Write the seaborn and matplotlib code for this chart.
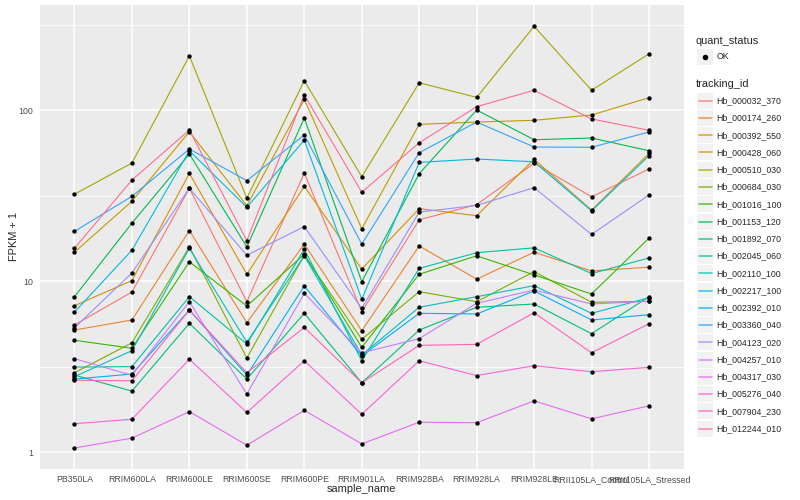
import matplotlib
matplotlib.use("Agg")
import matplotlib.pyplot as plt
from matplotlib.lines import Line2D
from matplotlib.patches import Rectangle
from matplotlib.ticker import FixedLocator, NullFormatter
import seaborn as sns
import pandas as pd

samples = ['PB350LA', 'RRIM600LA', 'RRIM600LE', 'RRIM600SE', 'RRIM600PE', 'RRIM901LA',
           'RRIM928BA', 'RRIM928LA', 'RRIM928LE', 'RRII105LA_Control', 'RRII105LA_Stressed']

genes = ['Hb_000032_370', 'Hb_000174_260', 'Hb_000392_550', 'Hb_000428_060', 'Hb_000510_030',
         'Hb_000684_030', 'Hb_001016_100', 'Hb_001153_120', 'Hb_001892_070', 'Hb_002045_060',
         'Hb_002110_100', 'Hb_002217_100', 'Hb_002392_010', 'Hb_003360_040', 'Hb_004123_020',
         'Hb_004257_010', 'Hb_004317_030', 'Hb_005276_040', 'Hb_007904_230', 'Hb_012244_010']

# ggplot default hue palette, 20 levels
colors = ['#F8766D', '#EA8331', '#D89000', '#C09B00', '#A3A500', '#7CAE00', '#39B600',
          '#00BB4E', '#00BF7D', '#00C1A3', '#00BFC4', '#00BAE0', '#00B0F6', '#35A2FF',
          '#9590FF', '#C77CFF', '#E76BF3', '#FA62DB', '#FF62BC', '#FF6C91']

# FPKM + 1, one value per sample
hb_000032_370 = [5.55, 8.66, 35.0, 7.60, 43.0, 6.64, 22.9, 28.1, 49.0, 31.2, 45.4]
hb_000174_260 = [5.19, 5.94, 19.8, 5.73, 16.5, 5.14, 16.1, 10.3, 14.8, 11.5, 12.1]
hb_000392_550 = [7.20, 10.1, 42.8, 11.0, 35.9, 11.8, 26.6, 24.2, 51.7, 26.1, 56.0]
hb_000428_060 = [14.8, 29.4, 75.0, 27.7, 116.0, 20.3, 82.8, 85.4, 87.4, 93.9, 118.5]
hb_000510_030 = [32.3, 49.2, 208.0, 30.6, 149.0, 40.9, 145.0, 119.0, 310.0, 131.0, 214.0]
hb_000684_030 = [2.92, 4.37, 15.9, 3.56, 14.2, 4.58, 8.70, 7.60, 11.4, 7.54, 7.64]
hb_001016_100 = [4.52, 4.06, 13.0, 7.17, 14.4, 4.11, 11.0, 14.1, 10.9, 8.43, 17.9]
hb_001153_120 = [8.13, 21.9, 55.5, 15.9, 90.2, 9.95, 42.6, 100.4, 67.3, 68.9, 58.0]
hb_001892_070 = [2.83, 2.28, 5.68, 2.68, 6.50, 2.55, 5.19, 7.05, 7.37, 4.94, 8.13]
hb_002045_060 = [3.15, 3.17, 8.13, 4.30, 15.4, 3.43, 11.9, 14.7, 15.7, 11.1, 13.7]
hb_002110_100 = [2.77, 3.93, 15.6, 4.40, 14.1, 3.71, 7.05, 8.13, 9.43, 6.50, 8.02]
hb_002217_100 = [6.61, 15.2, 58.0, 27.1, 67.0, 7.85, 49.6, 51.9, 50.0, 25.8, 54.3]
hb_002392_010 = [2.68, 2.87, 6.79, 2.83, 9.39, 3.66, 6.50, 6.44, 8.78, 5.94, 6.38]
hb_003360_040 = [19.6, 31.4, 59.4, 38.8, 71.7, 16.5, 56.5, 85.4, 61.0, 60.8, 74.7]
hb_004123_020 = [5.35, 11.2, 35.0, 14.2, 20.9, 6.95, 25.4, 27.8, 35.3, 18.8, 32.0]
hb_004257_010 = [3.53, 2.82, 7.60, 2.19, 8.51, 3.82, 4.62, 7.44, 8.89, 7.37, 7.64]
hb_004317_030 = [1.06, 1.21, 1.73, 1.10, 1.76, 1.12, 1.50, 1.49, 2.00, 1.57, 1.87]
hb_005276_040 = [1.47, 1.56, 3.50, 1.71, 3.43, 1.67, 3.43, 2.81, 3.21, 2.96, 3.14]
hb_007904_230 = [2.64, 2.62, 6.79, 2.92, 5.37, 2.55, 4.22, 4.28, 6.55, 3.82, 5.65]
hb_012244_010 = [15.6, 39.1, 76.7, 17.3, 123.0, 33.2, 64.6, 105.0, 131.0, 89.0, 76.4]

series = [hb_000032_370, hb_000174_260, hb_000392_550, hb_000428_060, hb_000510_030,
          hb_000684_030, hb_001016_100, hb_001153_120, hb_001892_070, hb_002045_060,
          hb_002110_100, hb_002217_100, hb_002392_010, hb_003360_040, hb_004123_020,
          hb_004257_010, hb_004317_030, hb_005276_040, hb_007904_230, hb_012244_010]

rows = []
for gene, vals in zip(genes, series):
    for s, v in zip(samples, vals):
        rows.append({'tracking_id': gene, 'sample_name': s, 'fpkm': v, 'quant_status': 'OK'})
df = pd.DataFrame(rows)

sns.set_theme(style='darkgrid')
plt.rcParams['font.family'] = ['Liberation Sans', 'DejaVu Sans']

W, H = 800, 500
fig = plt.figure(figsize=(8, 5), dpi=100)
ax = fig.add_axes([40 / W, 1 - 468.7 / H, (683.5 - 40) / W, (468.7 - 5) / H])

sns.lineplot(data=df, x='sample_name', y='fpkm', hue='tracking_id', hue_order=genes,
             palette=colors, estimator=None, sort=False, lw=0.8, legend=False, ax=ax)
sns.scatterplot(data=df, x='sample_name', y='fpkm', color='black', s=10, linewidth=0,
                legend=False, ax=ax, zorder=3)

ax.set_yscale('log')
ax.set_xlim(-0.6, 10.6)
ax.set_ylim(0.802, 413)
ax.set_yticks([1, 10, 100])
ax.set_yticklabels(['1', '10', '100'])
ax.yaxis.set_minor_locator(FixedLocator([10 ** 0.5, 10 ** 1.5, 10 ** 2.5]))
ax.yaxis.set_minor_formatter(NullFormatter())

ax.set_facecolor('#EBEBEB')
ax.grid(which='major', color='white', lw=1.1)
ax.grid(which='minor', axis='y', color='white', lw=0.55)
ax.set_axisbelow(True)
for sp in ax.spines.values():
    sp.set_visible(False)

ax.tick_params(axis='both', which='major', length=2.75, width=0.8, color='#333333',
               labelsize=6.3, labelcolor='#4D4D4D', pad=2)
ax.tick_params(axis='both', which='minor', length=0)
ax.set_xlabel('sample_name', fontsize=7.9, labelpad=0)
ax.set_ylabel('FPKM + 1', fontsize=7.9, labelpad=0)


def fx(px):
    return px / W


def fy(py):
    return 1 - py / H


# legend drawn like ggplot's guide boxes
fig.text(fx(696), fy(40.7), 'quant_status', fontsize=7.9, va='center', ha='left')
fig.add_artist(Rectangle((fx(697), fy(64.7)), 16 / W, 16 / H, transform=fig.transFigure,
                         facecolor='#F2F2F2', edgecolor='none'))
fig.add_artist(Line2D([fx(705)], [fy(56.7)], marker='o', markersize=3, color='black',
                      transform=fig.transFigure))
fig.text(fx(716.7), fy(56.7), 'OK', fontsize=6.3, va='center', ha='left')

fig.text(fx(696), fy(84.3), 'tracking_id', fontsize=7.9, va='center', ha='left')
for i, (gene, col) in enumerate(zip(genes, colors)):
    cy = 100.7 + 17.26 * i
    fig.add_artist(Rectangle((fx(697), fy(cy + 8)), 16 / W, 16 / H, transform=fig.transFigure,
                             facecolor='#F2F2F2', edgecolor='none'))
    fig.add_artist(Line2D([fx(698.5), fx(711.5)], [fy(cy), fy(cy)], color=col, lw=1.2,
                          alpha=0.75, transform=fig.transFigure))
    fig.text(fx(716.7), fy(cy), gene, fontsize=6.3, va='center', ha='left')

fig.savefig('out.png', dpi=100)
